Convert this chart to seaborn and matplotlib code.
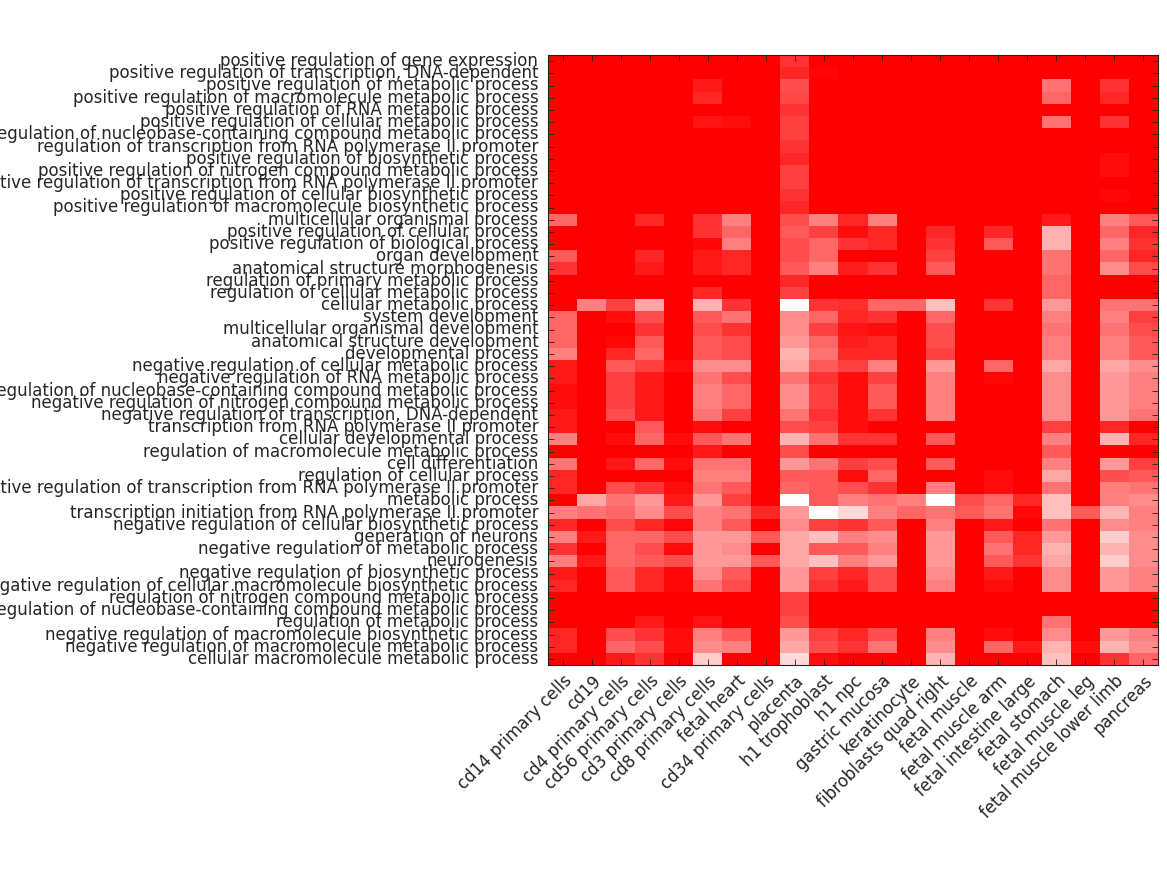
import numpy as np
import pandas as pd
import matplotlib
matplotlib.use("Agg")
import matplotlib.pyplot as plt
import seaborn as sns
from matplotlib.colors import LinearSegmentedColormap

processes = [
    "positive regulation of gene expression",
    "positive regulation of transcription, DNA-dependent",
    "positive regulation of metabolic process",
    "positive regulation of macromolecule metabolic process",
    "positive regulation of RNA metabolic process",
    "positive regulation of cellular metabolic process",
    "positive regulation of nucleobase-containing compound metabolic process",
    "regulation of transcription from RNA polymerase II promoter",
    "positive regulation of biosynthetic process",
    "positive regulation of nitrogen compound metabolic process",
    "positive regulation of transcription from RNA polymerase II promoter",
    "positive regulation of cellular biosynthetic process",
    "positive regulation of macromolecule biosynthetic process",
    "multicellular organismal process",
    "positive regulation of cellular process",
    "positive regulation of biological process",
    "organ development",
    "anatomical structure morphogenesis",
    "regulation of primary metabolic process",
    "regulation of cellular metabolic process",
    "cellular metabolic process",
    "system development",
    "multicellular organismal development",
    "anatomical structure development",
    "developmental process",
    "negative regulation of cellular metabolic process",
    "negative regulation of RNA metabolic process",
    "negative regulation of nucleobase-containing compound metabolic process",
    "negative regulation of nitrogen compound metabolic process",
    "negative regulation of transcription, DNA-dependent",
    "transcription from RNA polymerase II promoter",
    "cellular developmental process",
    "regulation of macromolecule metabolic process",
    "cell differentiation",
    "regulation of cellular process",
    "negative regulation of transcription from RNA polymerase II promoter",
    "metabolic process",
    "transcription initiation from RNA polymerase II promoter",
    "negative regulation of cellular biosynthetic process",
    "generation of neurons",
    "negative regulation of metabolic process",
    "neurogenesis",
    "negative regulation of biosynthetic process",
    "negative regulation of cellular macromolecule biosynthetic process",
    "regulation of nitrogen compound metabolic process",
    "regulation of nucleobase-containing compound metabolic process",
    "regulation of metabolic process",
    "negative regulation of macromolecule biosynthetic process",
    "negative regulation of macromolecule metabolic process",
    "cellular macromolecule metabolic process",
]

samples = [
    "cd14 primary cells", "cd19", "cd4 primary cells", "cd56 primary cells",
    "cd3 primary cells", "cd8 primary cells", "fetal heart", "cd34 primary cells",
    "placenta", "h1 trophoblast", "h1 npc", "gastric mucosa", "keratinocyte",
    "fibroblasts quad right", "fetal muscle", "fetal muscle arm",
    "fetal intestine large", "fetal stomach", "fetal muscle leg",
    "fetal muscle lower limb", "pancreas",
]

# one row per process, one value per sample (0 = red, 1 = white)
scores = [
    [0, 0, 0, 0, 0, 0, 0, 0, 0.2, 0, 0, 0, 0, 0, 0, 0, 0, 0, 0, 0, 0],
    [0, 0, 0, 0, 0, 0, 0, 0, 0.15, 0.02, 0, 0, 0, 0, 0, 0, 0, 0, 0, 0, 0],
    [0, 0, 0, 0, 0, 0.1, 0, 0, 0.3, 0, 0, 0, 0, 0, 0, 0, 0, 0.45, 0, 0.2, 0],
    [0, 0, 0, 0, 0, 0.15, 0, 0, 0.28, 0, 0, 0, 0, 0, 0, 0, 0, 0.4, 0, 0.15, 0],
    [0, 0, 0, 0, 0, 0, 0, 0, 0.2, 0, 0, 0, 0, 0, 0, 0, 0, 0, 0, 0, 0],
    [0, 0, 0, 0, 0, 0.08, 0.05, 0, 0.25, 0, 0, 0, 0, 0, 0, 0, 0, 0.45, 0, 0.2, 0],
    [0, 0, 0, 0, 0, 0, 0, 0, 0.25, 0, 0, 0, 0, 0, 0, 0, 0, 0, 0, 0, 0],
    [0, 0, 0, 0, 0, 0, 0, 0, 0.2, 0, 0, 0, 0, 0, 0, 0, 0, 0, 0, 0, 0],
    [0, 0, 0, 0, 0, 0, 0, 0, 0.15, 0, 0, 0, 0, 0, 0, 0, 0, 0, 0, 0.05, 0],
    [0, 0, 0, 0, 0, 0, 0, 0, 0.25, 0, 0, 0, 0, 0, 0, 0, 0, 0, 0, 0.05, 0],
    [0, 0, 0, 0, 0, 0, 0, 0, 0.25, 0, 0, 0, 0, 0, 0, 0, 0, 0, 0, 0, 0],
    [0, 0, 0, 0, 0, 0, 0, 0, 0.2, 0, 0, 0, 0, 0, 0, 0, 0, 0, 0, 0.03, 0],
    [0, 0, 0, 0, 0, 0, 0, 0, 0.15, 0, 0, 0, 0, 0, 0, 0, 0, 0, 0, 0, 0],
    [0.4, 0, 0, 0.15, 0, 0.2, 0.5, 0, 0.3, 0.5, 0.15, 0.5, 0, 0, 0, 0, 0, 0.1, 0, 0.5, 0.35],
    [0, 0, 0, 0, 0, 0.2, 0.4, 0, 0.35, 0.25, 0.05, 0.15, 0, 0.15, 0, 0.15, 0, 0.7, 0, 0.4, 0.15],
    [0, 0, 0, 0, 0, 0.03, 0.5, 0, 0.3, 0.4, 0.2, 0.15, 0, 0.2, 0, 0.35, 0, 0.7, 0, 0.5, 0.2],
    [0.35, 0, 0, 0.15, 0, 0.1, 0.15, 0, 0.3, 0.4, 0, 0, 0, 0.25, 0, 0, 0, 0.45, 0, 0.4, 0.15],
    [0.2, 0, 0, 0.1, 0, 0.1, 0.15, 0, 0.35, 0.5, 0.12, 0.2, 0, 0.35, 0, 0, 0, 0.45, 0, 0.55, 0.3],
    [0, 0, 0, 0, 0, 0, 0, 0, 0.15, 0, 0, 0, 0, 0, 0, 0, 0, 0.4, 0, 0, 0],
    [0, 0, 0, 0, 0, 0.15, 0, 0, 0.25, 0, 0, 0, 0, 0, 0, 0, 0, 0.4, 0, 0, 0],
    [0, 0.5, 0.25, 0.65, 0, 0.7, 0.2, 0, 1.0, 0.2, 0.18, 0.4, 0.4, 0.75, 0, 0.2, 0, 0.6, 0, 0.45, 0.45],
    [0.4, 0, 0.05, 0.3, 0, 0.35, 0.45, 0, 0.55, 0.4, 0.15, 0.2, 0, 0.4, 0, 0, 0, 0.5, 0, 0.5, 0.25],
    [0.4, 0, 0, 0.2, 0, 0.3, 0.2, 0, 0.55, 0.25, 0.08, 0.05, 0, 0.3, 0, 0, 0, 0.45, 0, 0.45, 0.3],
    [0.4, 0, 0.03, 0.35, 0, 0.35, 0.3, 0, 0.6, 0.4, 0.12, 0.15, 0, 0.3, 0, 0, 0, 0.5, 0, 0.5, 0.35],
    [0.5, 0, 0.15, 0.4, 0, 0.35, 0.3, 0, 0.7, 0.45, 0.15, 0.15, 0, 0.25, 0, 0, 0, 0.5, 0, 0.5, 0.35],
    [0.1, 0, 0.35, 0.25, 0.05, 0.55, 0.55, 0, 0.65, 0.35, 0.25, 0.5, 0, 0.6, 0, 0.4, 0, 0.65, 0, 0.65, 0.55],
    [0.1, 0, 0.25, 0.1, 0, 0.45, 0.3, 0, 0.45, 0.2, 0.05, 0.25, 0, 0.5, 0, 0.03, 0, 0.55, 0, 0.6, 0.5],
    [0.05, 0, 0.25, 0.1, 0, 0.5, 0.4, 0, 0.55, 0.25, 0.05, 0.35, 0, 0.5, 0, 0, 0, 0.55, 0, 0.6, 0.5],
    [0.05, 0, 0.25, 0.1, 0, 0.5, 0.4, 0, 0.55, 0.25, 0.05, 0.35, 0, 0.5, 0, 0, 0, 0.55, 0, 0.6, 0.5],
    [0.1, 0, 0.3, 0.1, 0, 0.45, 0.25, 0, 0.45, 0.2, 0.05, 0.2, 0, 0.5, 0, 0, 0, 0.55, 0, 0.6, 0.45],
    [0.1, 0, 0, 0.35, 0, 0.05, 0, 0, 0.3, 0.25, 0.05, 0, 0, 0, 0, 0, 0, 0.25, 0, 0.15, 0],
    [0.5, 0, 0.05, 0.4, 0.05, 0.35, 0.45, 0, 0.7, 0.45, 0.2, 0.2, 0, 0.35, 0, 0, 0, 0.5, 0, 0.7, 0.15],
    [0, 0, 0, 0, 0, 0.1, 0, 0, 0.3, 0, 0, 0, 0, 0, 0, 0, 0, 0.35, 0, 0, 0],
    [0.45, 0, 0.1, 0.4, 0.05, 0.45, 0.45, 0, 0.6, 0.45, 0.25, 0.3, 0, 0.35, 0, 0, 0, 0.5, 0, 0.6, 0.25],
    [0.15, 0, 0, 0, 0, 0.5, 0.5, 0, 0.35, 0.35, 0.05, 0.4, 0, 0, 0, 0.05, 0, 0.65, 0, 0.3, 0.35],
    [0.15, 0, 0.3, 0.2, 0.05, 0.45, 0.35, 0, 0.4, 0.35, 0.3, 0.2, 0, 0.5, 0, 0.05, 0, 0.45, 0, 0.5, 0.45],
    [0, 0.65, 0.45, 0.6, 0.1, 0.6, 0.25, 0, 1.0, 0.35, 0.5, 0.45, 0.5, 1.0, 0.3, 0.4, 0.15, 0.75, 0, 0.5, 0.55],
    [0.5, 0.45, 0.4, 0.55, 0.3, 0.5, 0.45, 0.15, 0.6, 1.0, 0.85, 0.5, 0.4, 0.45, 0.35, 0.45, 0.03, 0.75, 0.35, 0.7, 0.5],
    [0.15, 0, 0.3, 0.15, 0.03, 0.5, 0.35, 0, 0.55, 0.25, 0.2, 0.35, 0, 0.5, 0, 0.1, 0, 0.45, 0, 0.55, 0.5],
    [0.5, 0.1, 0.4, 0.4, 0.3, 0.6, 0.6, 0.35, 0.65, 0.75, 0.5, 0.55, 0, 0.6, 0, 0.35, 0.15, 0.6, 0, 0.8, 0.55],
    [0.2, 0, 0.4, 0.3, 0.05, 0.6, 0.55, 0, 0.65, 0.35, 0.35, 0.5, 0, 0.6, 0, 0.45, 0.15, 0.7, 0, 0.7, 0.55],
    [0.5, 0.1, 0.4, 0.35, 0.3, 0.6, 0.6, 0.35, 0.65, 0.75, 0.5, 0.6, 0, 0.6, 0, 0.35, 0.2, 0.65, 0, 0.8, 0.55],
    [0.1, 0, 0.35, 0.15, 0.03, 0.55, 0.35, 0, 0.6, 0.25, 0.15, 0.3, 0, 0.55, 0, 0.1, 0, 0.55, 0, 0.6, 0.5],
    [0.15, 0, 0.35, 0.15, 0.03, 0.45, 0.3, 0, 0.6, 0.2, 0.1, 0.3, 0, 0.5, 0, 0.05, 0, 0.55, 0, 0.6, 0.5],
    [0, 0, 0, 0, 0, 0, 0, 0, 0.25, 0, 0, 0, 0, 0, 0, 0, 0, 0, 0, 0, 0],
    [0, 0, 0, 0, 0, 0, 0, 0, 0.25, 0, 0, 0, 0, 0, 0, 0, 0, 0, 0, 0, 0],
    [0, 0, 0, 0.1, 0, 0.08, 0, 0, 0.3, 0, 0, 0, 0, 0, 0, 0, 0, 0.45, 0, 0, 0],
    [0.15, 0, 0.3, 0.2, 0.05, 0.5, 0.35, 0, 0.6, 0.25, 0.15, 0.3, 0, 0.5, 0, 0.05, 0, 0.55, 0, 0.6, 0.5],
    [0.15, 0, 0.4, 0.3, 0.05, 0.55, 0.5, 0, 0.65, 0.3, 0.2, 0.45, 0, 0.55, 0, 0.4, 0.1, 0.7, 0.05, 0.7, 0.55],
    [0, 0, 0.1, 0.2, 0, 0.8, 0, 0, 0.85, 0.05, 0, 0, 0, 0.7, 0, 0, 0, 0.75, 0, 0.2, 0.4],
]

df = pd.DataFrame(scores, index=processes, columns=samples)
cmap = LinearSegmentedColormap.from_list("red_white", ["#ff0000", "#ffffff"])

plt.rcParams["font.family"] = ["DejaVu Sans"]
fig = plt.figure(figsize=(11.67, 8.75), dpi=100)
ax = fig.add_axes([548 / 1167, 210 / 875, 610 / 1167, 610 / 875])
sns.heatmap(df, cmap=cmap, vmin=0, vmax=1, cbar=False,
            xticklabels=samples, yticklabels=processes, ax=ax)

for s in ax.spines.values():
    s.set_visible(True)
    s.set_linewidth(0.8)
    s.set_color("#222222")

ax.tick_params(direction="in", length=4, width=0.6, top=True, right=True,
               labeltop=False, labelright=False, colors="#222222",
               labelcolor="#262626")
ax.tick_params(axis="y", pad=7)
ax.tick_params(axis="x", pad=5)
ax.set_xlabel("")
ax.set_ylabel("")
plt.setp(ax.get_yticklabels(), rotation=0, fontsize=12, ha="right",
         va="center")
plt.setp(ax.get_xticklabels(), rotation=45, fontsize=12, ha="right",
         va="top", rotation_mode="anchor")

fig.savefig("out.png", dpi=100)
